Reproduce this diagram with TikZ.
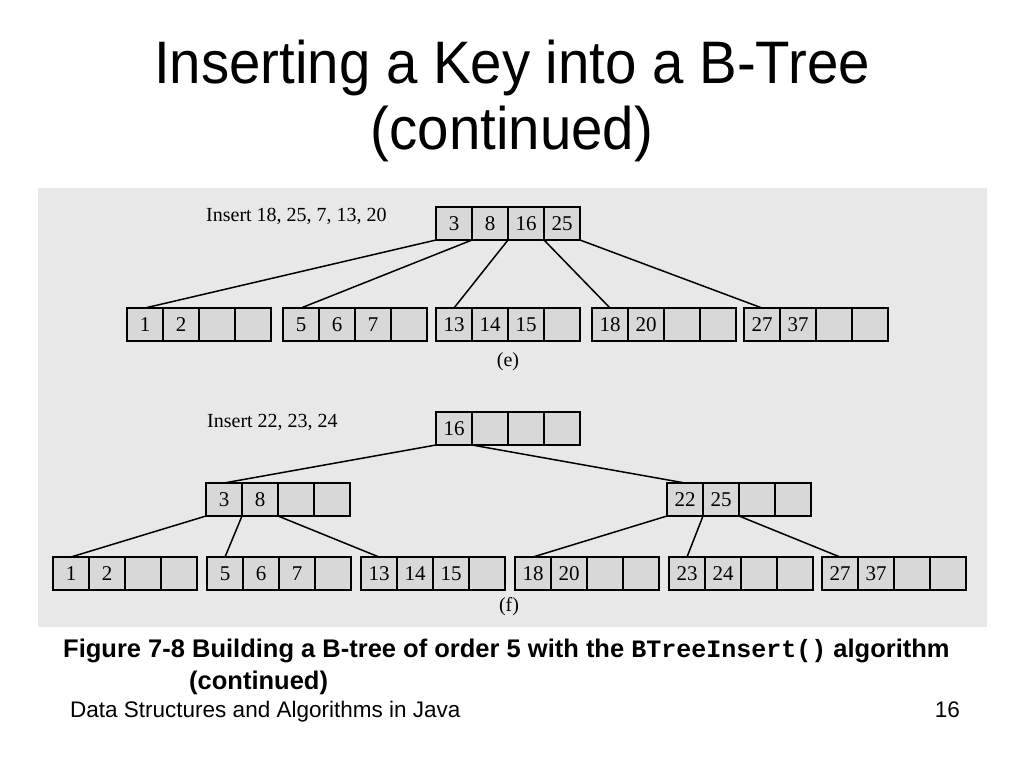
\documentclass[tikz,border=0pt]{standalone}
\usepackage{fontspec}
\setmainfont{Liberation Serif}
\newfontfamily\hv[FakeStretch=0.94]{Liberation Sans}
\newfontfamily\hvplain{Liberation Sans}
\newfontfamily\cmono{Liberation Mono}
\definecolor{panel}{HTML}{E8E8E8}
\definecolor{cellfill}{HTML}{D8D8D8}
\tikzset{
  cell/.style={draw=black, fill=cellfill, line width=1.5pt, minimum width=36pt,
    minimum height=33pt, inner sep=0pt, outer sep=0pt, text height=14pt, text depth=0pt,
    font=\fontsize{21}{21}\selectfont},
  edge/.style={draw=black, line width=1.5pt},
  lbl/.style={font=\fontsize{20}{22}\selectfont, inner sep=0pt}
}
\newcommand\bnode[7]{%
  \node[cell, anchor=north west] (#1a) at (#2,#3) {#4};
  \node[cell, anchor=west] (#1b) at (#1a.east) {#5};
  \node[cell, anchor=west] (#1c) at (#1b.east) {#6};
  \node[cell, anchor=west] (#1d) at (#1c.east) {#7};
}
\begin{document}
\begin{tikzpicture}[x=1pt,y=-1pt]
\useasboundingbox (0,0) rectangle (1024,768);
\fill[white] (0,0) rectangle (1024,768);
% title
\node[anchor=base, inner sep=0pt, font=\hv\fontsize{60}{66}\selectfont] (t1) at (512,83) {Inserting a Key into a B-Tree};
\node[anchor=base, inner sep=0pt, font=\hv\fontsize{60}{66}\selectfont] (t2) at (512,149) {(continued)};
% panel
\fill[panel] (38,188) rectangle (987,627);
% tree (e)
\node[lbl, anchor=base west] (ins1) at (206,221) {Insert 18, 25, 7, 13, 20};
\bnode{r}{436}{207}{3}{8}{16}{25}
\bnode{la}{127}{308}{1}{2}{}{}
\bnode{lb}{283}{308}{5}{6}{7}{}
\bnode{lc}{436}{308}{13}{14}{15}{}
\bnode{ld}{592}{308}{18}{20}{}{}
\bnode{le}{744}{308}{27}{37}{}{}
\draw[edge] (ra.south west) -- (laa.north);
\draw[edge] (ra.south east) -- (lba.north);
\draw[edge] (rb.south east) -- (lca.north);
\draw[edge] (rc.south east) -- (lda.north);
\draw[edge] (rd.south east) -- (lea.north);
\node[lbl] (cape) at (508,362) {(e)};
% tree (f)
\node[lbl, anchor=base west] (ins2) at (207,427) {Insert 22, 23, 24};
\bnode{s}{436}{412}{16}{}{}{}
\bnode{ma}{206}{483}{3}{8}{}{}
\bnode{mb}{667}{483}{22}{25}{}{}
\bnode{ka}{53}{557}{1}{2}{}{}
\bnode{kb}{207}{557}{5}{6}{7}{}
\bnode{kc}{361}{557}{13}{14}{15}{}
\bnode{kd}{515}{557}{18}{20}{}{}
\bnode{ke}{669}{557}{23}{24}{}{}
\bnode{kf}{822}{557}{27}{37}{}{}
\draw[edge] (sa.south west) -- (maa.north);
\draw[edge] (sa.south east) -- (mba.north);
\draw[edge] (maa.south west) -- (kaa.north);
\draw[edge] (maa.south east) -- (kba.north);
\draw[edge] (mab.south east) -- (kca.north);
\draw[edge] (mba.south west) -- (kda.north);
\draw[edge] (mba.south east) -- (kea.north);
\draw[edge] (mbb.south east) -- (kfa.north);
\node[lbl] (capf) at (509,607) {(f)};
% caption
\node[anchor=base west, inner sep=0pt, font=\hvplain\bfseries\fontsize{25.5}{28}\selectfont] (cap1) at (63,657)
  {Figure 7-8 Building a B-tree of order 5 with the {\cmono\bfseries\fontsize{25}{28}\selectfont BTreeInsert()} algorithm};
\node[anchor=base west, inner sep=0pt, font=\hvplain\bfseries\fontsize{25.5}{28}\selectfont] (cap2) at (189,689) {(continued)};
% footer
\node[anchor=base west, inner sep=0pt, font=\hvplain\fontsize{22.5}{24}\selectfont] (foot) at (70,717) {Data Structures and Algorithms in Java};
\node[anchor=base east, inner sep=0pt, font=\hvplain\fontsize{22.5}{24}\selectfont] (pg) at (960,717) {16};
\end{tikzpicture}
\end{document}
